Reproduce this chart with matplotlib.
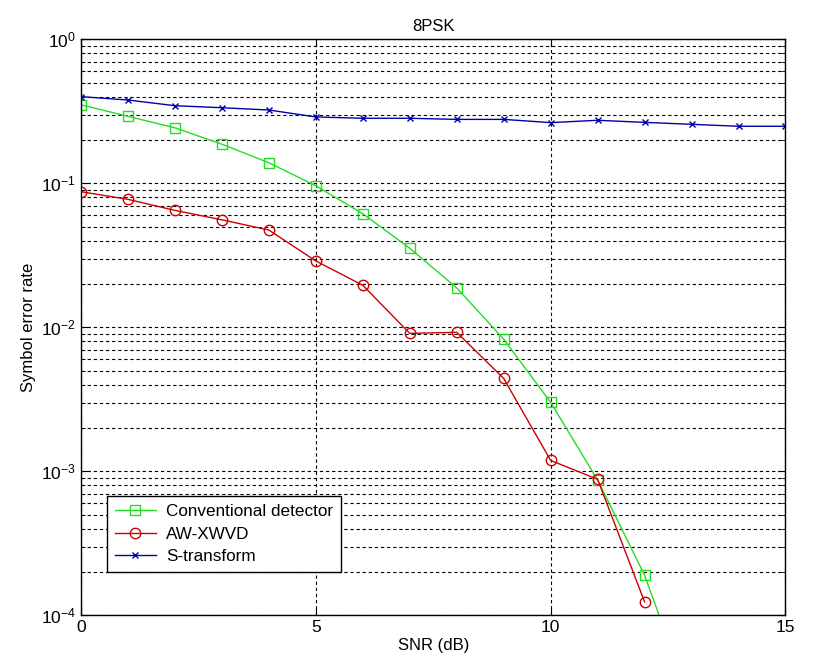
import matplotlib
matplotlib.use("Agg")
import matplotlib.pyplot as plt
import numpy as np

plt.rcParams['font.family'] = ['Liberation Sans', 'DejaVu Sans']
plt.rcParams['mathtext.fontset'] = 'custom'
plt.rcParams['mathtext.rm'] = 'Liberation Sans'
plt.rcParams['mathtext.it'] = 'Liberation Sans'

snr_conv = [0, 1, 2, 3, 4, 5, 6, 7, 8, 9, 10, 11, 12, 13]
ser_conv = [0.351, 0.292, 0.243, 0.187, 0.139, 0.0962, 0.0615, 0.0354, 0.0188,
            0.00828, 0.00301, 0.00087, 1.9e-4, 2.4e-5]

snr_aw = [0, 1, 2, 3, 4, 5, 6, 7, 8, 9, 10, 11, 12]
ser_aw = [0.0875, 0.0774, 0.0649, 0.0558, 0.0474, 0.0289, 0.0196, 0.00908,
          0.00923, 0.00442, 0.00119, 0.00088, 1.24e-4]

snr_st = [0, 1, 2, 3, 4, 5, 6, 7, 8, 9, 10, 11, 12, 13, 14, 15]
ser_st = [0.40, 0.379, 0.346, 0.335, 0.323, 0.289, 0.283, 0.283, 0.278, 0.278,
          0.264, 0.274, 0.265, 0.257, 0.249, 0.249]

labels = ['Conventional detector', 'AW-XWVD', 'S-transform']

fig = plt.figure(figsize=(8.27, 6.7), dpi=100)
ax = fig.add_axes([0.0979, 0.0816, 0.8519, 0.8597])

ax.plot(snr_conv, ser_conv, color='#22dd22', marker='s', markersize=7.5,
        markerfacecolor='none', markeredgewidth=1.0, linewidth=1.0, label=labels[0])
ax.plot(snr_aw, ser_aw, color='#cc0000', marker='o', markersize=7.5,
        markerfacecolor='none', markeredgewidth=1.0, linewidth=1.0, label=labels[1])
ax.plot(snr_st, ser_st, color='#0000aa', marker='x', markersize=4,
        markeredgewidth=1.0, linewidth=1.0, label=labels[2])

ax.set_yscale('log')
ax.set_xlim(0, 15)
ax.set_ylim(1e-4, 1)
ax.set_xticks([0, 5, 10, 15])

ax.grid(True, which='major', axis='x', color='black', linestyle=(0, (3, 2.5)), linewidth=0.8)
ax.grid(True, which='both', axis='y', color='black', linestyle=(0, (3, 2.5)), linewidth=0.8)

ax.tick_params(which='both', direction='in', top=True, right=True, labelsize=12.5)
ax.tick_params(which='major', length=5)
ax.tick_params(which='minor', length=3)
for s in ax.spines.values():
    s.set_linewidth(1.0)

ax.set_title('8PSK', fontsize=12)
ax.set_xlabel('SNR (dB)', fontsize=12, labelpad=2)
ax.set_ylabel('Symbol error rate', fontsize=12)

leg = ax.legend(loc='lower left', bbox_to_anchor=(0.037, 0.075), borderaxespad=0,
                fontsize=12.3, fancybox=False, edgecolor='black', framealpha=1,
                handlelength=2.4, borderpad=0.45, labelspacing=0.45, handletextpad=0.6)
leg.get_frame().set_linewidth(1.0)

fig.savefig('out.png', dpi=100)
